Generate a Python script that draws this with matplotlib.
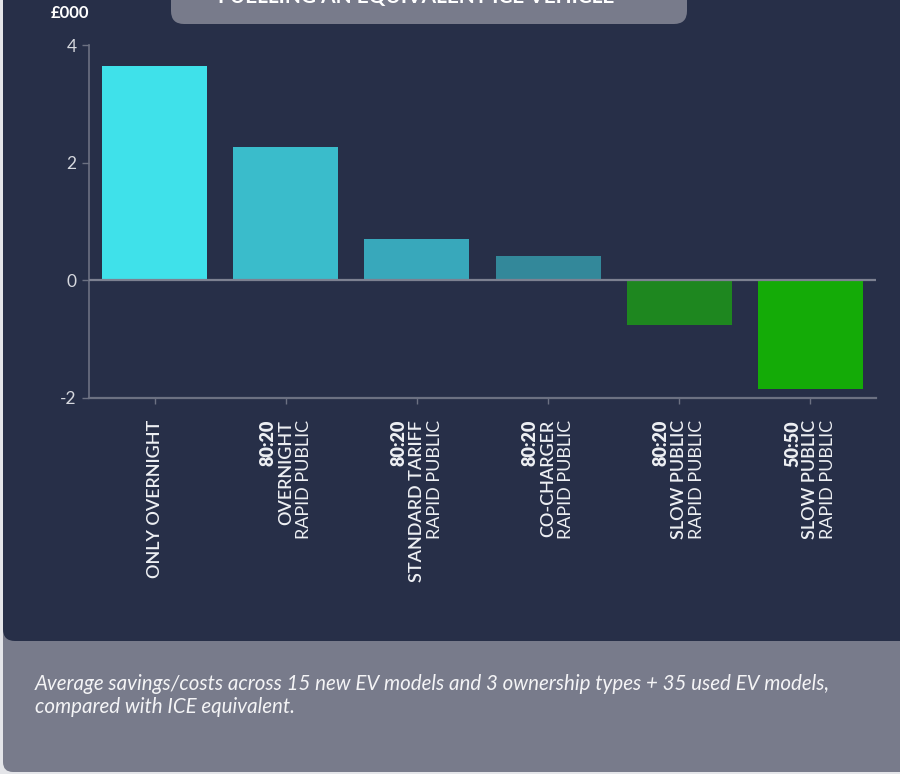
import matplotlib
matplotlib.use("Agg")
import matplotlib.pyplot as plt
from matplotlib.patches import FancyBboxPatch
from matplotlib.transforms import IdentityTransform, offset_copy

plt.rcParams['font.family'] = ['Lato', 'DejaVu Sans']

# ---- data ----
categories = [
    [("ONLY OVERNIGHT", "semibold")],
    [("80:20", "heavy"), ("OVERNIGHT", "semibold"), ("RAPID PUBLIC", "normal")],
    [("80:20", "heavy"), ("STANDARD TARIFF", "semibold"), ("RAPID PUBLIC", "normal")],
    [("80:20", "heavy"), ("CO-CHARGER", "semibold"), ("RAPID PUBLIC", "normal")],
    [("80:20", "heavy"), ("SLOW PUBLIC", "semibold"), ("RAPID PUBLIC", "normal")],
    [("50:50", "heavy"), ("SLOW PUBLIC", "semibold"), ("RAPID PUBLIC", "normal")],
]
values = [3.64, 2.26, 0.71, 0.41, -0.76, -1.85]
bar_colors = ["#3fe1ea", "#3abccb", "#38a8bb", "#33889a", "#1e871f", "#14ab07"]
yticks = [-2, 0, 2, 4]
unit_label = "£000"
title_text = "FUELLING AN EQUIVALENT ICE VEHICLE"
caption = ("Average savings/costs across 15 new EV models and 3 ownership types + 35 used EV models,\n"
           "compared with ICE equivalent.")

W, H = 900, 774
fig = plt.figure(figsize=(W / 100, H / 100), dpi=100, facecolor="#e4e5e9")

DARK = "#272f48"
GREY = "#787b8b"

# background panels (pixel coordinates, origin bottom-left)
ident = IdentityTransform()
fig.add_artist(FancyBboxPatch((3, 2), 960, 900, boxstyle="round,pad=0,rounding_size=10",
                              fc=GREY, ec="none", transform=ident, zorder=-5))
fig.add_artist(FancyBboxPatch((3, H - 641), 960, 800, boxstyle="round,pad=0,rounding_size=12",
                              fc=DARK, ec="none", transform=ident, zorder=-4))
fig.add_artist(FancyBboxPatch((171, H - 24), 516, 80, boxstyle="round,pad=0,rounding_size=13",
                              fc=GREY, ec="none", transform=ident, zorder=-3))
fig.text(416 / W, 1 - 3 / H, title_text, ha="center", va="baseline", color="white",
         fontsize=15, fontweight="bold")

# axes
left, right, top, bottom = 89, 876, 45, 398
ax = fig.add_axes([left / W, 1 - bottom / H, (right - left) / W, (bottom - top) / H])
ax.set_facecolor("none")
x = list(range(len(values)))
ax.bar(x, values, width=0.8, color=bar_colors, zorder=2)
ax.set_xlim(-0.5, len(values) - 0.5)
ax.set_ylim(-2, 4)
ax.axhline(0, color="#7d8191", lw=1.6, zorder=3)

axis_col = "#6c7182"
for s in ["top", "right"]:
    ax.spines[s].set_visible(False)
ax.spines["left"].set_color(axis_col)
ax.spines["bottom"].set_color(axis_col)
ax.spines["left"].set_linewidth(1.2)
ax.spines["bottom"].set_linewidth(1.6)
ax.set_yticks(yticks)
ax.set_yticklabels([str(t) for t in yticks])
ax.tick_params(axis="y", colors=axis_col, labelcolor="#d6d8de", labelsize=12.5, length=5, width=1, pad=4)
ax.set_xticks(x)
ax.set_xticklabels([""] * len(x))
ax.tick_params(axis="x", colors=axis_col, length=4, width=1)

# multi-weight x labels
line_gap = 18
for i, lines in enumerate(categories):
    n = len(lines)
    for j, (txt, wt) in enumerate(lines):
        dx = (j - (n - 1) / 2) * line_gap
        tr = offset_copy(ax.get_xaxis_transform(), fig=fig, x=dx, y=-22, units="dots")
        ax.text(i, 0, txt, transform=tr, rotation=90, ha="center", va="top",
                color="#eef0f4", fontsize=13, fontweight=wt, clip_on=False)

fig.text(70 / W, 1 - 5 / H, unit_label, ha="center", va="top", color="white",
         fontsize=12, fontweight="bold")

fig.text(35 / W, 1 - 674 / H, caption, ha="left", va="top", color="#f4f4f6",
         fontsize=14.8, style="italic", linespacing=1.2)

fig.savefig("out.png", dpi=100, facecolor=fig.get_facecolor())
